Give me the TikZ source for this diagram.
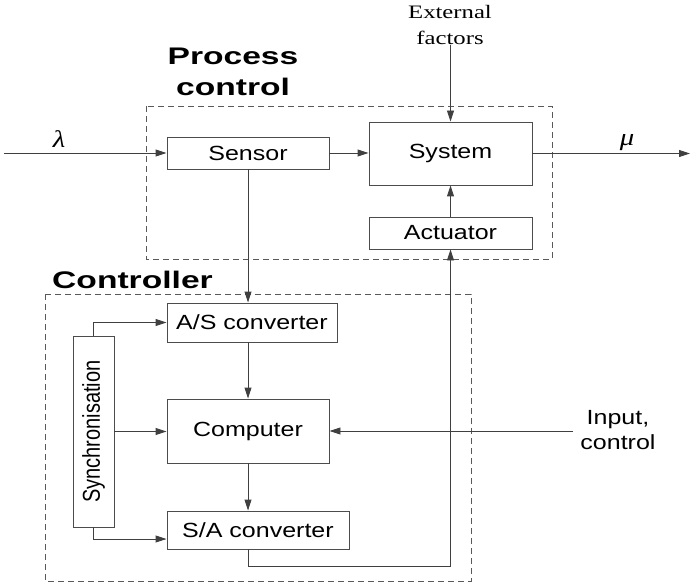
\documentclass[tikz,border=0pt]{standalone}
\usepackage{fontspec}
\setmainfont{Liberation Sans}[FakeStretch=1.22]
\newfontfamily\boldst{Liberation Sans Bold}[FakeStretch=1.4]
\newfontfamily\serifst{Liberation Serif}[FakeStretch=1.3]
\newfontfamily\serifit{Liberation Serif Italic}[FakeStretch=1.2]
\newfontfamily\sansplain{Liberation Sans}
\usetikzlibrary{arrows.meta}
\tikzset{
  box/.style={draw=black!70, line width=0.9pt, inner sep=0pt, align=center,
    font=\fontsize{20.5}{24}\selectfont},
  arr/.style={draw=black!75, line width=0.9pt, -{Triangle[length=11pt,width=7pt]}},
  dashbox/.style={draw=black!65, line width=0.9pt, dash pattern=on 6pt off 4pt},
  title/.style={font=\boldst\fontsize{24}{31}\selectfont, align=center},
  lbl/.style={font=\fontsize{20.5}{25}\selectfont, align=center},
  greek/.style={font=\serifit\fontsize{24}{26}\selectfont}
}
\begin{document}
\begin{tikzpicture}[x=1pt,y=-1pt]
\useasboundingbox (0,0) rectangle (695,585);
% dashed frames
\draw[dashbox] (146,106) rectangle (552,259);
\draw[dashbox] (45,294) rectangle (471,581);
% titles
\node[title] (pctitle) at (233,72) {Process\\control};
\node[title] (cttitle) at (132.5,280) {Controller};
% boxes
\node[box, minimum width=162pt, minimum height=32pt] (sensor) at (248,153) {Sensor};
\node[box, minimum width=163pt, minimum height=63pt] (system) at (450.5,153.5) {System};
\node[box, minimum width=163pt, minimum height=32pt] (actuator) at (450.5,233) {Actuator};
\node[box, minimum width=170pt, minimum height=39pt] (as) at (252,322.5) {A/S converter};
\node[box, minimum width=162pt, minimum height=64pt] (computer) at (248,431) {Computer};
\node[box, minimum width=182pt, minimum height=38pt] (sa) at (258,530) {S/A converter};
\node[box, minimum width=41pt, minimum height=191pt] (sync) at (93.5,431.5) {};
\node[font=\sansplain\fontsize{20}{24}\selectfont, rotate=90] (synctext) at (sync.center) {\scalebox{1}[1.22]{Synchronisation}};
% labels
\node[font=\serifst\fontsize{19}{26}\selectfont, align=center] (ext) at (450,25) {External\\factors};
\node[greek] (lam) at (59,139) {λ};
\node[greek] (mu) at (627,143) {μ};
\node[lbl] (inp) at (618,430) {Input,\\control};
% free ends
\coordinate (lin) at (4,153);
\coordinate (mout) at (690,153.5);
\coordinate (efin) at (450.5,45);
\coordinate (icin) at (573,431);
% connectors
\draw[arr] (lin) -- (sensor.west);
\draw[arr] (sensor.east) -- (sensor.east -| system.west);
\draw[arr] (system.east) -- (mout);
\draw[arr] (efin) -- (system.north);
\draw[arr] (actuator.north) -- (system.south);
\draw[arr] (sensor.south) -- (sensor.south |- as.north);
\draw[arr] (computer.north |- as.south) -- (computer.north);
\draw[arr] (computer.south) -- (computer.south |- sa.north);
\draw[arr] (computer.south |- sa.south) -- ++(0,17) -| (actuator.south);
\draw[arr] (sync.north) |- (as.west);
\draw[arr] (sync.south) |- ([yshift=-9pt]sa.west);
\draw[arr] (sync.east) -- (sync.east -| computer.west);
\draw[arr] (icin) -- (computer.east);
\end{tikzpicture}
\end{document}
